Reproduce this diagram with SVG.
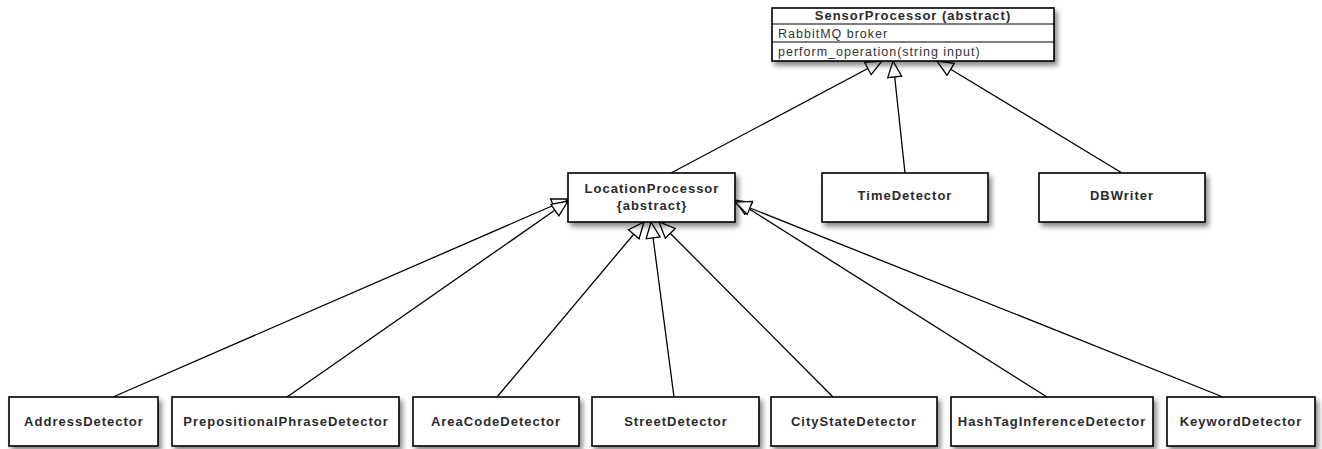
<svg xmlns="http://www.w3.org/2000/svg" width="1322" height="449" viewBox="0 0 1322 449">
<style>
.box{fill:#fff;stroke:#000;stroke-width:1.6;filter:url(#sh)}
.sep{stroke:#000;stroke-width:1.2}
.t{font-family:"Liberation Sans",Arial,sans-serif;font-size:13px;font-weight:bold;fill:#2a2a2a;letter-spacing:1px;text-anchor:middle}
.a{font-family:"Liberation Sans",Arial,sans-serif;font-size:12.5px;fill:#333;letter-spacing:1px}
.c{stroke:#000;stroke-width:1.3;fill:none;marker-end:url(#gen)}
</style>
<defs>
<filter id="sh" x="-10%" y="-20%" width="130%" height="160%">
<feDropShadow dx="3" dy="4" stdDeviation="2.5" flood-color="#000" flood-opacity="0.45"/>
</filter>
<marker id="gen" viewBox="0 0 18 16" refX="17" refY="8" markerWidth="18" markerHeight="16" markerUnits="userSpaceOnUse" orient="auto">
<path d="M1,1 L17,8 L1,15 Z" fill="#fff" stroke="#000" stroke-width="1.3"/>
</marker>
</defs>
<rect width="1322" height="449" fill="#fff"/>
<g id="connectors">
<line class="c" x1="671" y1="173" x2="882" y2="61"/>
<line class="c" x1="905" y1="173" x2="893" y2="61"/>
<line class="c" x1="1122" y1="173" x2="937" y2="61"/>
<line class="c" x1="113" y1="397" x2="568" y2="199"/>
<line class="c" x1="287" y1="397" x2="568" y2="201"/>
<line class="c" x1="497" y1="397" x2="644" y2="222"/>
<line class="c" x1="674" y1="397" x2="651" y2="222"/>
<line class="c" x1="833" y1="397" x2="659" y2="222"/>
<line class="c" x1="1047" y1="397" x2="735" y2="200"/>
<line class="c" x1="1223" y1="397" x2="735" y2="202"/>
</g>
<g id="SensorProcessor">
<rect class="box" x="772" y="8" width="282" height="53"/>
<line class="sep" x1="772" y1="24" x2="1054" y2="24"/>
<line class="sep" x1="772" y1="42" x2="1054" y2="42"/>
<text class="t" x="913" y="20">SensorProcessor (abstract)</text>
<text class="a" x="778" y="37.5">RabbitMQ broker</text>
<text class="a" x="778" y="55.5">perform_operation(string input)</text>
</g>
<g id="LocationProcessor">
<rect class="box" x="568" y="173" width="167" height="49"/>
<text class="t" x="652" y="192.5">LocationProcessor</text>
<text class="t" x="652" y="209.5">{abstract}</text>
</g>
<g id="TimeDetector">
<rect class="box" x="822" y="173" width="166" height="49"/>
<text class="t" x="905" y="200">TimeDetector</text>
</g>
<g id="DBWriter">
<rect class="box" x="1039" y="173" width="166" height="49"/>
<text class="t" x="1122" y="200">DBWriter</text>
</g>
<g id="AddressDetector">
<rect class="box" x="9" y="397" width="149" height="49"/>
<text class="t" x="84" y="425.5">AddressDetector</text>
</g>
<g id="PrepositionalPhraseDetector">
<rect class="box" x="172" y="397" width="227" height="49"/>
<text class="t" x="286" y="425.5">PrepositionalPhraseDetector</text>
</g>
<g id="AreaCodeDetector">
<rect class="box" x="413" y="397" width="166" height="49"/>
<text class="t" x="496" y="425.5">AreaCodeDetector</text>
</g>
<g id="StreetDetector">
<rect class="box" x="592" y="397" width="167" height="49"/>
<text class="t" x="676" y="425.5">StreetDetector</text>
</g>
<g id="CityStateDetector">
<rect class="box" x="771" y="397" width="166" height="49"/>
<text class="t" x="854" y="425.5">CityStateDetector</text>
</g>
<g id="HashTagInferenceDetector">
<rect class="box" x="951" y="397" width="202" height="49"/>
<text class="t" x="1052" y="425.5">HashTagInferenceDetector</text>
</g>
<g id="KeywordDetector">
<rect class="box" x="1167" y="397" width="148" height="49"/>
<text class="t" x="1241" y="425.5">KeywordDetector</text>
</g>
</svg>
